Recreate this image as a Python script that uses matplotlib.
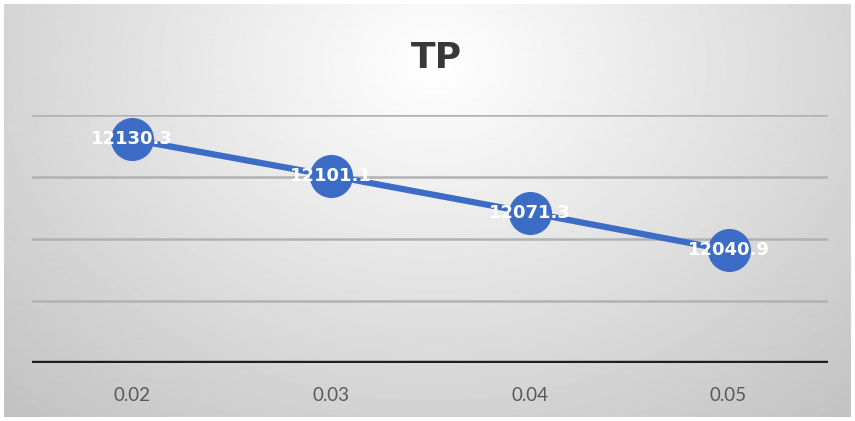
import numpy as np
import matplotlib.pyplot as plt

categories = ["0.02", "0.03", "0.04", "0.05"]
tp_values = [12130.3, 12101.1, 12071.3, 12040.9]
y_ticks = [11950, 12000, 12050, 12100, 12150]

fig = plt.figure(figsize=(8.55, 4.21), dpi=100, facecolor="white")

# radial grey background like the excel chart area
bg = fig.add_axes([4 / 855, 4 / 421, 847 / 855, 413 / 421])
yy, xx = np.mgrid[0:413, 0:847]
r = np.sqrt(((xx - 430) / 620.0) ** 2 + ((yy - 60) / 480.0) ** 2)
shade = np.clip(1.0 - 0.24 * r, 0.76, 1.0)
bg.imshow(shade, cmap="gray", vmin=0, vmax=1, aspect="auto", interpolation="bilinear")
bg.axis("off")

ax = fig.add_axes([32 / 855, 58 / 421, 796 / 855, 248 / 421])
ax.patch.set_alpha(0)
x = np.arange(len(categories))

for t in y_ticks[1:]:
    ax.axhline(t, color="#b2b2b2", lw=1.8, zorder=1)
ax.axhline(y_ticks[0], color="#1f1f1f", lw=3.2, zorder=2)

ax.plot(x, tp_values, color="#3d6cc6", lw=4.5, marker="o", markersize=30,
        markerfacecolor="#3d6cc6", markeredgecolor="#3d6cc6", zorder=3)

for xi, v in zip(x, tp_values):
    ax.text(xi, v, f"{v:.1f}", color="white", fontsize=13, fontweight="bold",
            ha="center", va="center", zorder=4)

ax.set_xlim(-0.5, len(categories) - 0.5)
ax.set_ylim(y_ticks[0], y_ticks[-1])
ax.set_xticks(x)
ax.set_xticklabels(categories, fontsize=13.5, color="#595959", family="Lato")
ax.set_yticks([])
ax.tick_params(axis="x", length=0, pad=17)
for s in ax.spines.values():
    s.set_visible(False)

fig.text(436 / 855, 1 - 58 / 421, "TP", fontsize=26, fontweight="bold",
         color="#383838", ha="center", va="center")

fig.savefig("out.png", dpi=100)
